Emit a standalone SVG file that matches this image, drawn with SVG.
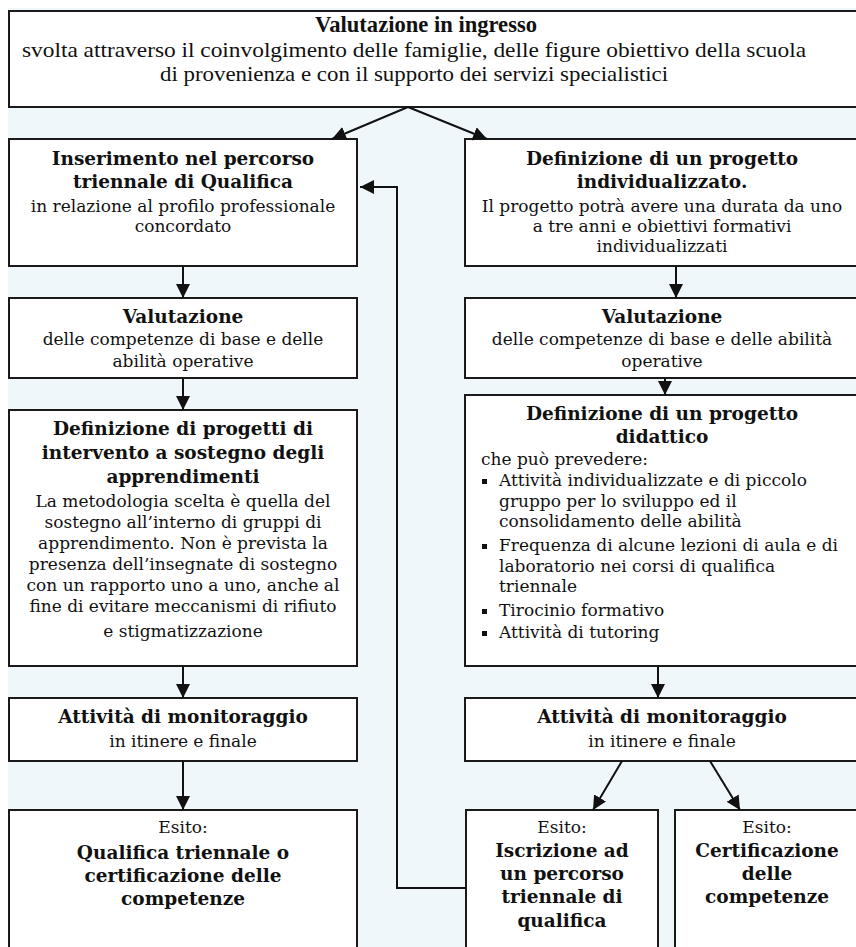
<svg xmlns="http://www.w3.org/2000/svg" width="856" height="947" viewBox="0 0 856 947">
<style>
.box{fill:#ffffff;stroke:#1a1a1a;stroke-width:2}
.b{font-family:"DejaVu Serif","Liberation Serif",serif;font-weight:bold;font-size:18.5px;fill:#111;text-anchor:middle}
.r{font-family:"DejaVu Serif","Liberation Serif",serif;font-size:17px;fill:#111;text-anchor:middle}
.l{text-anchor:start}
.tb{font-family:"Liberation Serif",serif;font-weight:bold;font-size:23px;fill:#111;text-anchor:middle}
.tr{font-family:"Liberation Serif",serif;font-size:21px;fill:#111;text-anchor:middle}
.c{fill:none;stroke:#111;stroke-width:2}
</style>
<defs>
<marker id="ah" markerUnits="userSpaceOnUse" viewBox="0 0 14 14" markerWidth="14" markerHeight="14" refX="14" refY="7" orient="auto">
<path d="M0,0 L14,7 L0,14 z" fill="#111"/>
</marker>
</defs>
<rect x="0" y="0" width="856" height="947" fill="#ffffff"/>
<rect x="8" y="8" width="848" height="939" fill="#eff7fb"/>

<g id="n-ingresso">
<rect class="box" x="9" y="11" width="860" height="96"/>
<text class="tb" x="426" y="32" textLength="222" lengthAdjust="spacingAndGlyphs">Valutazione in ingresso</text>
<text class="tr" x="414" y="57" textLength="784" lengthAdjust="spacingAndGlyphs">svolta attraverso il coinvolgimento delle famiglie, delle figure obiettivo della scuola</text>
<text class="tr" x="414" y="81" textLength="508" lengthAdjust="spacingAndGlyphs">di provenienza e con il supporto dei servizi specialistici</text>
</g>

<g id="n-inserimento">
<rect class="box" x="9" y="139" width="348" height="127"/>
<text class="b" x="183" y="165">Inserimento nel percorso</text>
<text class="b" x="183" y="188">triennale di Qualifica</text>
<text class="r" x="183" y="212">in relazione al profilo professionale</text>
<text class="r" x="183" y="232">concordato</text>
</g>

<g id="n-valutazione-l">
<rect class="box" x="9" y="298" width="348" height="80"/>
<text class="b" x="183" y="323">Valutazione</text>
<text class="r" x="183" y="345">delle competenze di base e delle</text>
<text class="r" x="183" y="367">abilità operative</text>
</g>

<g id="n-progetti-l">
<rect class="box" x="9" y="410" width="348" height="256"/>
<text class="b" x="183" y="435">Definizione di progetti di</text>
<text class="b" x="183" y="459">intervento a sostegno degli</text>
<text class="b" x="183" y="483">apprendimenti</text>
<text class="r" x="183" y="507">La metodologia scelta è quella del</text>
<text class="r" x="183" y="528">sostegno all’interno di gruppi di</text>
<text class="r" x="183" y="549">apprendimento. Non è prevista la</text>
<text class="r" x="183" y="570">presenza dell’insegnate di sostegno</text>
<text class="r" x="183" y="591">con un rapporto uno a uno, anche al</text>
<text class="r" x="183" y="612">fine di evitare meccanismi di rifiuto</text>
<text class="r" x="183" y="637">e stigmatizzazione</text>
</g>

<g id="n-monitor-l">
<rect class="box" x="9" y="698" width="348" height="63"/>
<text class="b" x="183" y="723">Attività di monitoraggio</text>
<text class="r" x="183" y="747">in itinere e finale</text>
</g>

<g id="n-esito-l">
<rect class="box" x="9" y="810" width="348" height="150"/>
<text class="r" x="183" y="833">Esito:</text>
<text class="b" x="183" y="859">Qualifica triennale o</text>
<text class="b" x="183" y="882">certificazione delle</text>
<text class="b" x="183" y="905">competenze</text>
</g>

<g id="n-individualizzato">
<rect class="box" x="465" y="139" width="400" height="127"/>
<text class="b" x="662" y="165">Definizione di un progetto</text>
<text class="b" x="662" y="188">individualizzato.</text>
<text class="r" x="662" y="212">Il progetto potrà avere una durata da uno</text>
<text class="r" x="662" y="232">a tre anni e obiettivi formativi</text>
<text class="r" x="662" y="252">individualizzati</text>
</g>

<g id="n-valutazione-r">
<rect class="box" x="465" y="298" width="400" height="80"/>
<text class="b" x="662" y="323">Valutazione</text>
<text class="r" x="662" y="345">delle competenze di base e delle abilità</text>
<text class="r" x="662" y="367">operative</text>
</g>

<g id="n-didattico">
<rect class="box" x="465" y="395" width="400" height="271"/>
<text class="b" x="662" y="420">Definizione di un progetto</text>
<text class="b" x="662" y="443">didattico</text>
<text class="r l" x="481" y="465">che può prevedere:</text>
<g fill="#111">
<rect x="482" y="479" width="5" height="5"/>
<rect x="482" y="544" width="5" height="5"/>
<rect x="482" y="609" width="5" height="5"/>
<rect x="482" y="631" width="5" height="5"/>
</g>
<text class="r l" x="499" y="486">Attività individualizzate e di piccolo</text>
<text class="r l" x="499" y="507">gruppo per lo sviluppo ed il</text>
<text class="r l" x="499" y="527">consolidamento delle abilità</text>
<text class="r l" x="499" y="551">Frequenza di alcune lezioni di aula e di</text>
<text class="r l" x="499" y="572">laboratorio nei corsi di qualifica</text>
<text class="r l" x="499" y="592">triennale</text>
<text class="r l" x="499" y="616">Tirocinio formativo</text>
<text class="r l" x="499" y="638">Attività di tutoring</text>
</g>

<g id="n-monitor-r">
<rect class="box" x="465" y="698" width="400" height="63"/>
<text class="b" x="662" y="723">Attività di monitoraggio</text>
<text class="r" x="662" y="747">in itinere e finale</text>
</g>

<g id="n-iscrizione">
<rect class="box" x="466" y="810" width="192" height="150"/>
<text class="r" x="562" y="833">Esito:</text>
<text class="b" x="562" y="857">Iscrizione ad</text>
<text class="b" x="562" y="880">un percorso</text>
<text class="b" x="562" y="903">triennale di</text>
<text class="b" x="562" y="927">qualifica</text>
</g>

<g id="n-certificazione">
<rect class="box" x="675" y="810" width="200" height="150"/>
<text class="r" x="767" y="833">Esito:</text>
<text class="b" x="767" y="857">Certificazione</text>
<text class="b" x="767" y="880">delle</text>
<text class="b" x="767" y="903">competenze</text>
</g>

<g id="connectors">
<line class="c" x1="408" y1="107" x2="332" y2="139" marker-end="url(#ah)"/>
<line class="c" x1="408" y1="107" x2="487" y2="139" marker-end="url(#ah)"/>
<line class="c" x1="183" y1="266" x2="183" y2="298" marker-end="url(#ah)"/>
<line class="c" x1="183" y1="378" x2="183" y2="410" marker-end="url(#ah)"/>
<line class="c" x1="183" y1="666" x2="183" y2="698" marker-end="url(#ah)"/>
<line class="c" x1="183" y1="761" x2="183" y2="810" marker-end="url(#ah)"/>
<line class="c" x1="676" y1="266" x2="676" y2="298" marker-end="url(#ah)"/>
<line class="c" x1="665" y1="378" x2="665" y2="395" marker-end="url(#ah)"/>
<line class="c" x1="658" y1="666" x2="658" y2="698" marker-end="url(#ah)"/>
<line class="c" x1="622" y1="761" x2="593" y2="810" marker-end="url(#ah)"/>
<line class="c" x1="710" y1="761" x2="740" y2="810" marker-end="url(#ah)"/>
<polyline class="c" points="466,888 397,888 397,187 360,187" marker-end="url(#ah)"/>
</g>
</svg>
